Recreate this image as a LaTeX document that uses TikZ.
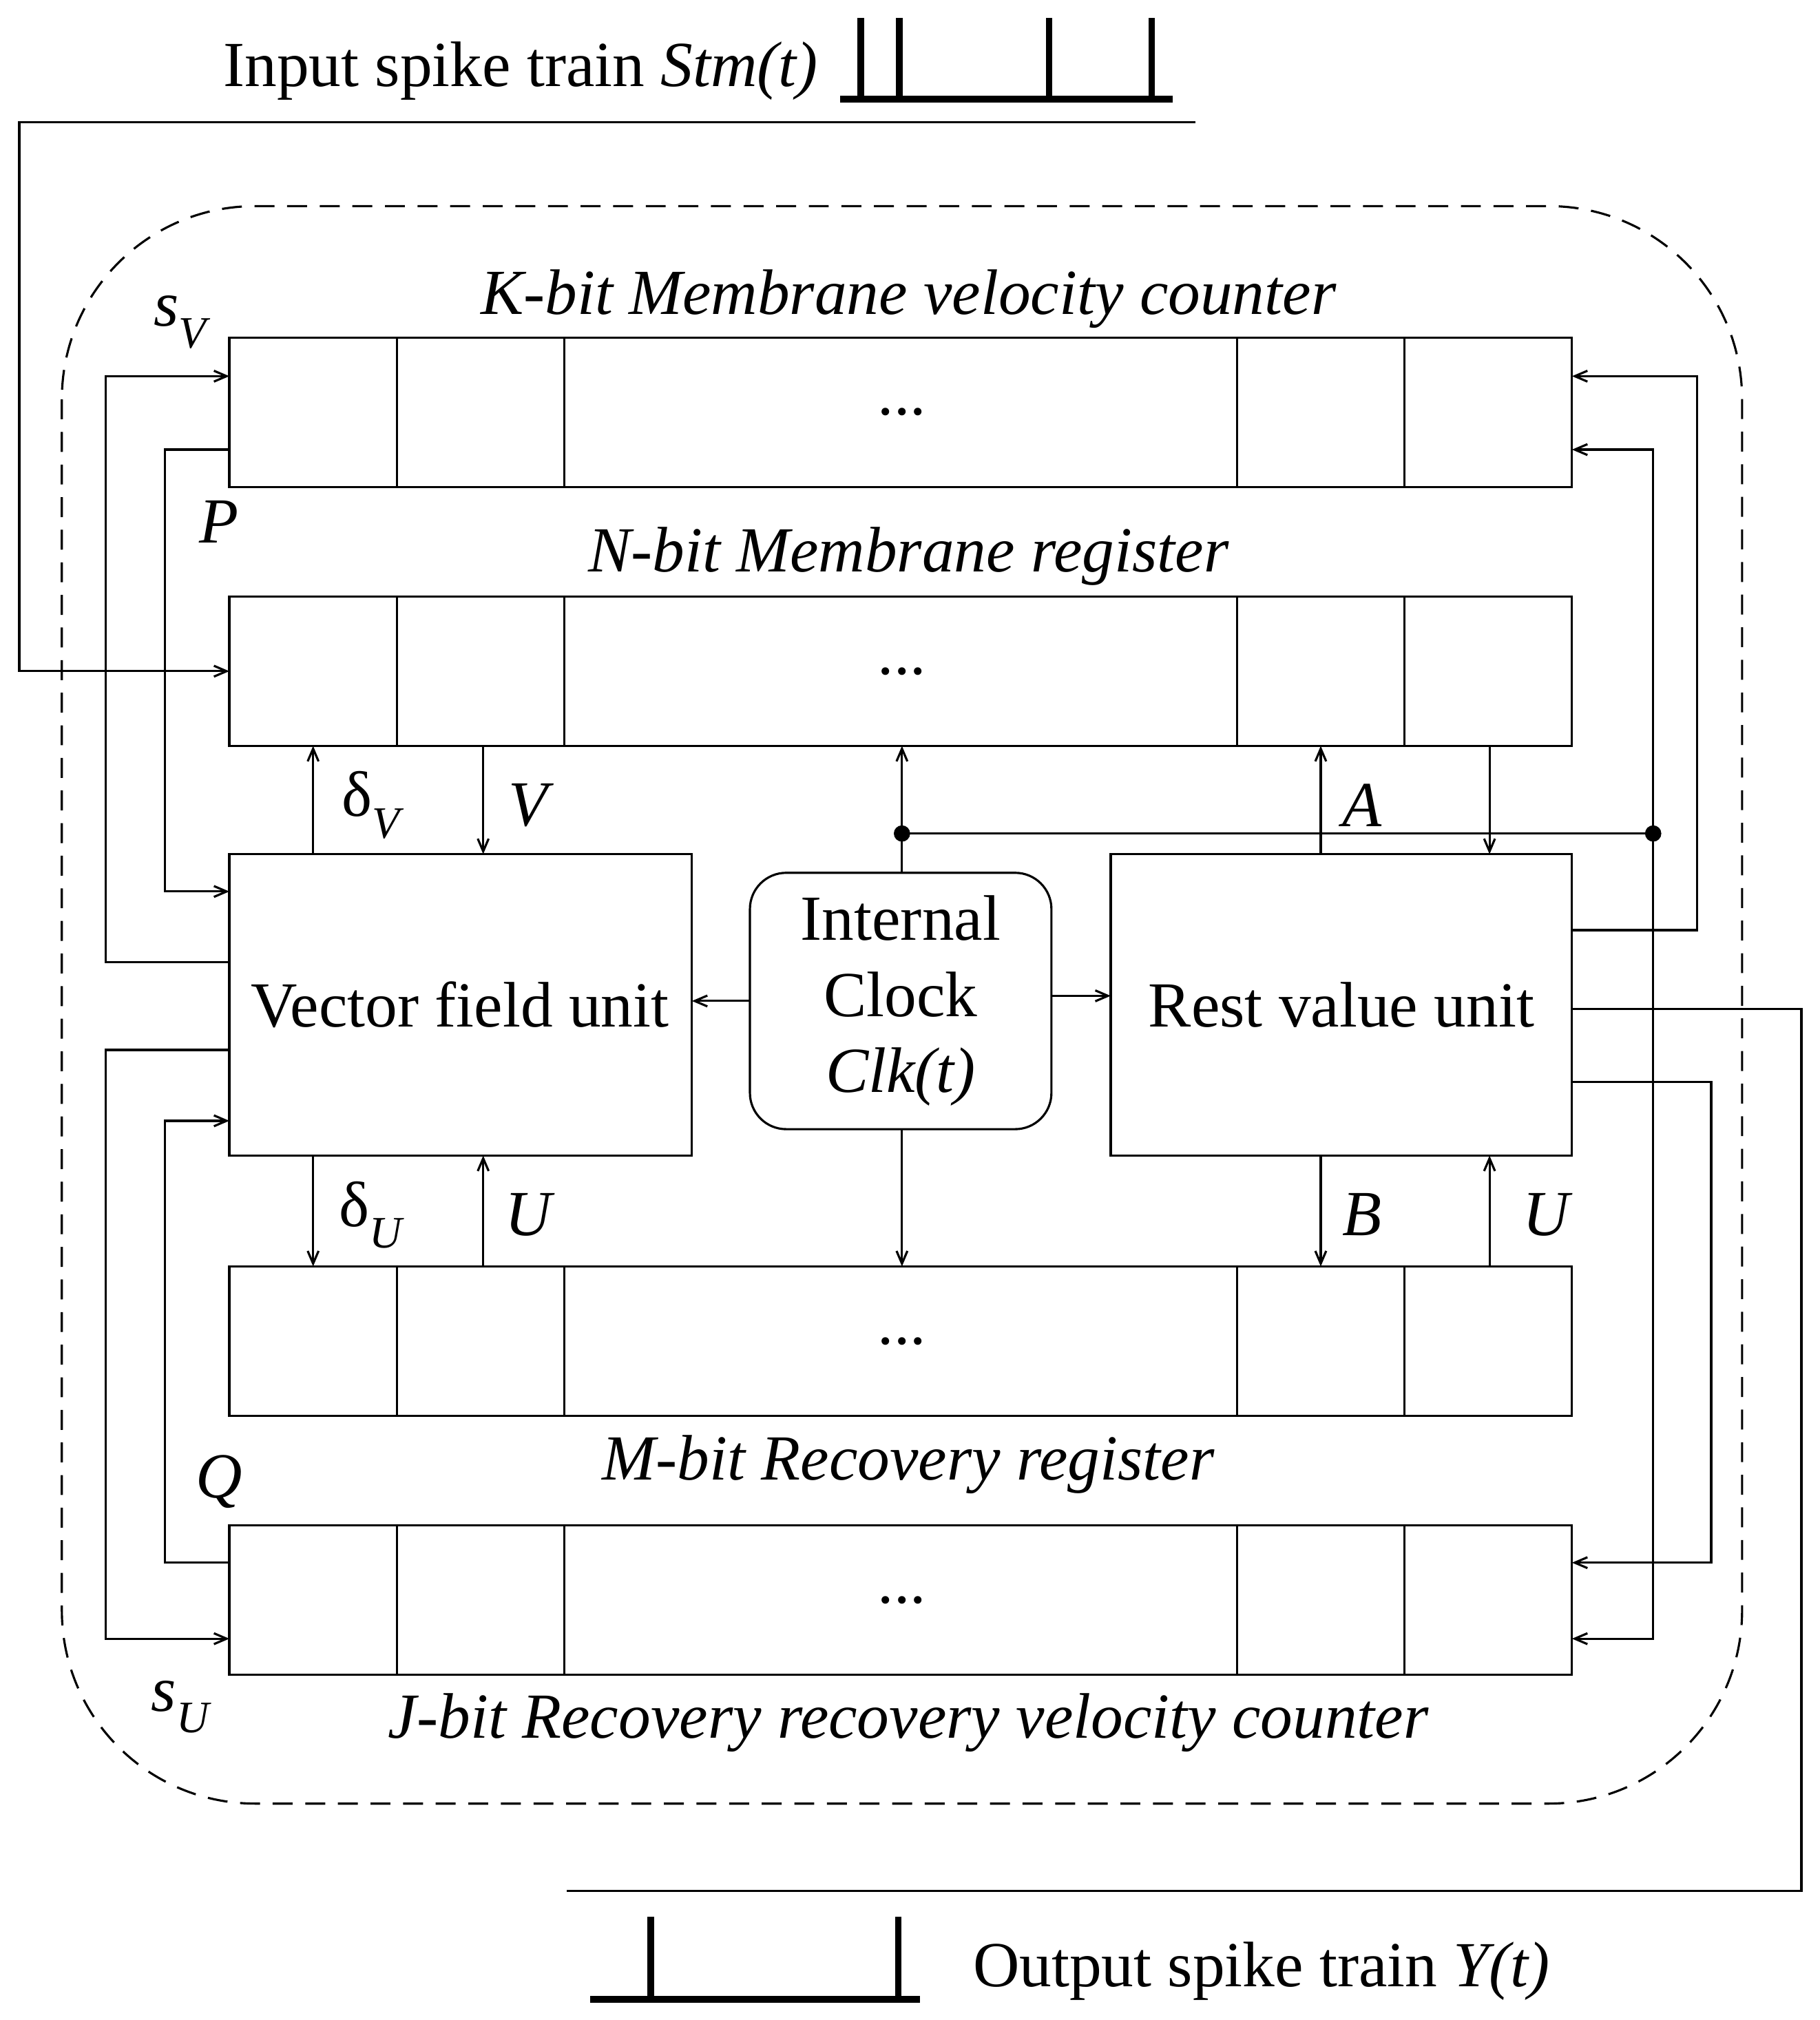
\documentclass[tikz,border=0pt]{standalone}
\usepackage{fontspec}
\setmainfont{Liberation Serif}
\usetikzlibrary{fit,arrows.meta}
\begin{document}
\begin{tikzpicture}[x=0.05cm,y=-0.05cm,line width=2.4pt,
  reg/.style={draw,inner sep=0pt},
  ar/.style={-{Straight Barb[length=14pt,width=12pt]}},
  lbl/.style={font=\fontsize{71}{82}\selectfont\itshape},
  big/.style={font=\fontsize{71}{84}\selectfont},
  spike/.style={line width=7pt}]
\useasboundingbox (0,0) rectangle (1412,1568);
% dashed frame
\draw[dash pattern=on 22pt off 14pt,rounded corners=7.5cm] (48,160) rectangle (1352,1400);
% registers
\foreach \n/\y in {K/262,N/463,M/983,J/1184}{
  \node[reg,fit={(178,\y) (1220,\y+116)}] (\n) {};
  \foreach \x in {308,438,960,1090} \draw (\x,\y) -- (\x,\y+116);
  \node[big] at (700,\y+58) {...};
}
\node[lbl] at (705,232) {K-bit Membrane velocity counter};
\node[lbl] at (705,432) {N-bit Membrane register};
\node[lbl] at (705,1137) {M-bit Recovery register};
\node[lbl] at (705,1337) {J-bit Recovery recovery velocity counter};
% units
\node[reg,fit={(178,663) (537,897)}] (VF) {};
\node[big] at (357,780) {Vector field unit};
\node[reg,fit={(862,663) (1220,897)}] (RV) {};
\node[big] at (1041,780) {Rest value unit};
\node[draw,rounded corners=40pt,minimum width=11.7cm,minimum height=9.95cm,align=center,big] (CL) at (699,777) {Internal\\Clock\\\textit{Clk(t)}};
% input
\draw[ar] (928,95) -- (15,95) -- (15,521) -- (178,521);
\draw[spike] (652,77) -- (910,77);
\foreach \x in {668,698,814,894} \draw[spike] (\x,77) -- (\x,14);
\node[big,anchor=east] (in) at (638,55) {Input spike train \textit{Stm(t)}};
% output
\draw (1220,783) -- (1398,783) -- (1398,1468) -- (440,1468);
\draw[spike] (458,1552) -- (714,1552);
\foreach \x in {505,697} \draw[spike] (\x,1552) -- (\x,1488);
\node[big,anchor=west] (out) at (752,1530) {Output spike train \textit{Y(t)}};
% left
\draw[ar] (178,747) -- (82,747) -- (82,292) -- (178,292);
\node[lbl] at (140,250) {s\textsubscript{V}};
\draw[ar] (178,349) -- (128,349) -- (128,692) -- (178,692);
\node[lbl] at (170,405) {P};
\draw[ar] (178,1213) -- (128,1213) -- (128,870) -- (178,870);
\node[lbl] at (170,1150) {Q};
\draw[ar] (178,815) -- (82,815) -- (82,1272) -- (178,1272);
\node[lbl] at (140,1325) {s\textsubscript{U}};
% right
\draw[ar] (1220,722) -- (1317,722) -- (1317,292) -- (1220,292);
\draw[ar] (1220,840) -- (1328,840) -- (1328,1213) -- (1220,1213);
\draw[ar] (700,678) -- (700,579);
\draw (700,647) -- (1283,647);
\fill (700,647) circle (9pt) (1283,647) circle (9pt);
\draw[ar] (1283,647) -- (1283,349) -- (1220,349);
\draw[ar] (1283,647) -- (1283,1272) -- (1220,1272);
\draw[ar] (700,877) -- (700,983);
\draw[ar] (582,777) -- (537,777);
\draw[ar] (816,773) -- (862,773);
% verticals
\draw[ar] (243,663) -- (243,579); \node[lbl] at (288,625) {\upshape δ\textsubscript{\itshape V}};
\draw[ar] (375,579) -- (375,663); \node[lbl] at (410,625) {V};
\draw[ar] (1025,663) -- (1025,579); \node[lbl] at (1057,625) {A};
\draw[ar] (1156,579) -- (1156,663);
\draw[ar] (243,897) -- (243,983); \node[lbl] at (288,943) {\upshape δ\textsubscript{\itshape U}};
\draw[ar] (375,983) -- (375,897); \node[lbl] at (410,943) {U};
\draw[ar] (1025,897) -- (1025,983); \node[lbl] at (1057,943) {B};
\draw[ar] (1156,983) -- (1156,897); \node[lbl] at (1200,943) {U};
\end{tikzpicture}
\end{document}
